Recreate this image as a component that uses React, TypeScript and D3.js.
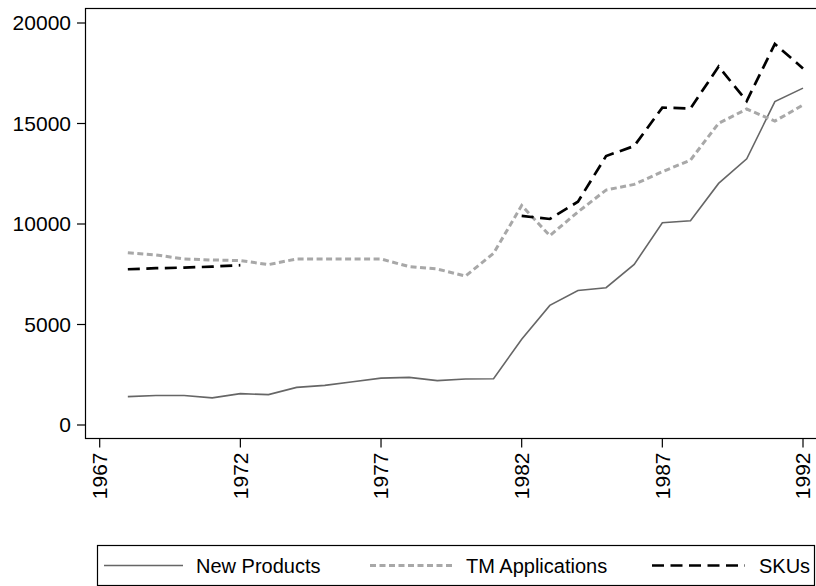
import React from 'react';
import * as d3 from 'd3';

// values, one per year 1968..1992
const years = d3.range(1968, 1993);
const newProducts = [1410, 1470, 1470, 1350, 1560, 1510, 1870, 1970, 2150, 2330, 2370, 2210, 2290, 2300, 4270, 5950, 6690, 6830, 7990, 10060, 10160, 12020, 13240, 16090, 16760];
const tmApplications = [8570, 8460, 8260, 8210, 8180, 7980, 8260, 8260, 8260, 8260, 7880, 7760, 7410, 8540, 10920, 9420, 10600, 11690, 11970, 12600, 13180, 15010, 15720, 15120, 15920];
const skus: (number | null)[] = [7750, 7800, 7830, 7880, 7950, null, null, null, null, null, null, null, null, null, 10400, 10250, 11110, 13380, 13880, 15790, 15750, 17830, 16120, 18960, 17740];
const xTicks = [1967, 1972, 1977, 1982, 1987, 1992];
const yTicks = [0, 5000, 10000, 15000, 20000];

const series = [
  { name: 'New Products', values: newProducts, stroke: '#666666', width: 1.6, dash: '' },
  { name: 'TM Applications', values: tmApplications, stroke: '#a8a8a8', width: 3, dash: '6,3.5' },
  { name: 'SKUs', values: skus, stroke: '#000000', width: 2.7, dash: '12,6.5' },
];

const W = 816;
const H = 586;
const font = '"Liberation Sans", Arial, sans-serif';

export default function App() {
  const x = d3.scaleLinear().domain([1967, 1992]).range([99.7, 803]);
  const y = d3.scaleLinear().domain([0, 20000]).range([425, 23]);
  const frame = { left: 85.5, top: 8.5, bottom: 438.5 };

  const line = d3
    .line<number | null>()
    .defined((d) => d != null)
    .x((_, i) => x(years[i]))
    .y((d) => y(d as number));

  // legend layout
  const leg = { x0: 97.5, y0: 545.5, x1: 814.5, y1: 585.5 };
  const legY = (leg.y0 + leg.y1) / 2;
  const keys = [
    { k0: 104, k1: 183, tx: 196 },
    { k0: 370, k1: 452, tx: 466 },
    { k0: 652, k1: 745, tx: 759 },
  ];

  return (
    <svg width={W} height={H} style={{ position: 'fixed', top: 0, left: 0, background: '#fff' }} fontFamily={font}>
      <rect x={frame.left} y={frame.top} width={W + 10 - frame.left} height={frame.bottom - frame.top} fill="none" stroke="#000" strokeWidth={1.2} />

      {yTicks.map((t) => (
        <g key={t} transform={`translate(0,${y(t)})`}>
          <line x1={77} x2={frame.left} stroke="#000" strokeWidth={1.2} />
          <text x={71} dy="0.35em" textAnchor="end" fontSize={21} fill="#000">{t}</text>
        </g>
      ))}

      {xTicks.map((t) => (
        <g key={t} transform={`translate(${x(t)},${frame.bottom})`}>
          <line y1={0} y2={9} stroke="#000" strokeWidth={1.2} />
          <text transform="translate(0,14) rotate(-90)" dy="0.35em" textAnchor="end" fontSize={21} fill="#000">{t}</text>
        </g>
      ))}

      {series.map((s) => (
        <path key={s.name} d={line(s.values) ?? ''} fill="none" stroke={s.stroke} strokeWidth={s.width} strokeDasharray={s.dash} strokeLinejoin="miter" />
      ))}

      <rect x={leg.x0} y={leg.y0} width={leg.x1 - leg.x0} height={leg.y1 - leg.y0} fill="#fff" stroke="#000" strokeWidth={1.2} />
      {series.map((s, i) => (
        <g key={s.name}>
          <line x1={keys[i].k0} x2={keys[i].k1} y1={legY} y2={legY} stroke={s.stroke} strokeWidth={s.width} strokeDasharray={s.dash} />
          <text x={keys[i].tx} y={legY} dy="0.35em" fontSize={20} fill="#000">{s.name}</text>
        </g>
      ))}
    </svg>
  );
}
